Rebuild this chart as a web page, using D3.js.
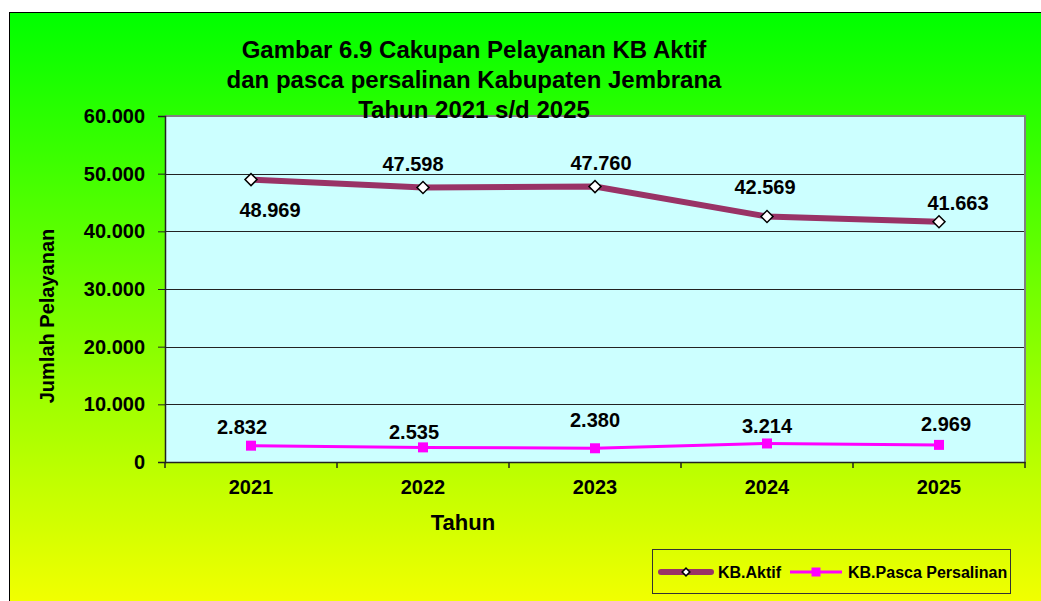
<!DOCTYPE html>
<html>
<head>
<meta charset="utf-8">
<script src="https://d3js.org/d3.v7.min.js"></script>
<style>
  body { margin: 0; background: #fff; }
  svg { display: block; font-family: "Liberation Sans", Arial, sans-serif; font-weight: bold; }
</style>
</head>
<body>
<svg id="chart"></svg>
<script>
// Data
const years = ["2021", "2022", "2023", "2024", "2025"];
const kbAktif = [48969, 47598, 47760, 42569, 41663];
const kbPasca = [2832, 2535, 2380, 3214, 2969];
const yTicks = [0, 10000, 20000, 30000, 40000, 50000, 60000];
const titleLines = ["Gambar 6.9 Cakupan Pelayanan KB Aktif", "dan pasca persalinan Kabupaten Jembrana", "Tahun 2021 s/d 2025"];

// Label nudges (dx, dy of label centre from its point), as placed in the original
const aktifLabelOffset = [[19, 30], [-10, -24], [6, -24], [-2, -30], [19, -19]];
const pascaLabelOffset = [[-9, -19], [-9, -15], [0, -28], [0, -17], [7, -21]];

const W = 1041, H = 601;
const plot = { left: 165, top: 116, right: 1025, bottom: 462 };

const svg = d3.select("#chart").attr("width", W).attr("height", H);

// number format with "." thousands separator
const fmt = d3.formatLocale({ decimal: ",", thousands: ".", grouping: [3], currency: ["", ""] }).format(",");

// Background gradient green -> yellow
const defs = svg.append("defs");
const bg = defs.append("linearGradient")
  .attr("id", "bg-grad")
  .attr("x1", 0).attr("y1", 0).attr("x2", 0).attr("y2", 1);
bg.append("stop").attr("offset", "0%").attr("stop-color", "#00ff00");
bg.append("stop").attr("offset", "100%").attr("stop-color", "#ffff00");

svg.append("rect")
  .attr("x", 9.5).attr("y", 12.5)
  .attr("width", W + 20).attr("height", H + 20)
  .attr("fill", "url(#bg-grad)")
  .attr("stroke", "#000").attr("stroke-width", 1);

// Scales
const x = d3.scaleBand().domain(years).range([plot.left, plot.right]);
const y = d3.scaleLinear().domain([0, 60000]).range([plot.bottom, plot.top]);
const cx = d => x(d) + x.bandwidth() / 2;

// Plot area
svg.append("rect")
  .attr("x", plot.left).attr("y", plot.top)
  .attr("width", plot.right - plot.left).attr("height", plot.bottom - plot.top)
  .attr("fill", "#ccffff");

// Gridlines
svg.append("g").selectAll("line")
  .data(yTicks.filter(t => t > 0 && t < 60000))
  .enter().append("line")
  .attr("x1", plot.left).attr("x2", plot.right)
  .attr("y1", d => Math.round(y(d)) + 0.5).attr("y2", d => Math.round(y(d)) + 0.5)
  .attr("stroke", "#222").attr("stroke-width", 1);

// Top and right border of plot area
svg.append("path")
  .attr("d", `M${plot.left},${plot.top}H${plot.right}V${plot.bottom}`)
  .attr("fill", "none").attr("stroke", "#808080").attr("stroke-width", 2);

// Y axis
const yAxis = svg.append("g")
  .attr("transform", `translate(${plot.left},0)`)
  .call(d3.axisLeft(y).tickValues(yTicks).tickFormat(fmt).tickSize(7).tickPadding(13));
yAxis.selectAll("text").style("font-size", "20px").attr("fill", "#000");
yAxis.selectAll("line").attr("stroke", "#222");
yAxis.select(".domain").attr("stroke", "#222").attr("stroke-width", 1.5);

// X axis
const xAxis = svg.append("g")
  .attr("transform", `translate(0,${plot.bottom})`)
  .call(d3.axisBottom(x).tickSize(0).tickPadding(18));
xAxis.selectAll("text").style("font-size", "20px").attr("fill", "#000");
xAxis.select(".domain").attr("stroke", "#222").attr("stroke-width", 1.5);

// category boundary tick marks
svg.append("g").selectAll("line")
  .data(years.map(d => x(d)).concat([plot.right]))
  .enter().append("line")
  .attr("x1", d => d).attr("x2", d => d)
  .attr("y1", plot.bottom).attr("y2", plot.bottom + 6)
  .attr("stroke", "#222").attr("stroke-width", 1.5);

// Lines
const lineGen = vals => d3.line().x((d, i) => cx(years[i])).y(d => y(d))(vals);

svg.append("path")
  .attr("d", lineGen(kbAktif))
  .attr("fill", "none").attr("stroke", "#993366").attr("stroke-width", 6);

svg.append("path")
  .attr("d", lineGen(kbPasca))
  .attr("fill", "none").attr("stroke", "#ff00ff").attr("stroke-width", 3);

// Markers
const diamond = d3.symbol().type(d3.symbolSquare).size(72);
svg.append("g").selectAll("path")
  .data(kbAktif)
  .enter().append("path")
  .attr("d", diamond)
  .attr("transform", (d, i) => `translate(${cx(years[i])},${y(d)}) rotate(45)`)
  .attr("fill", "#fff").attr("stroke", "#000").attr("stroke-width", 1.5);

const square = d3.symbol().type(d3.symbolSquare).size(100);
svg.append("g").selectAll("path")
  .data(kbPasca)
  .enter().append("path")
  .attr("d", square)
  .attr("transform", (d, i) => `translate(${cx(years[i])},${y(d)})`)
  .attr("fill", "#ff00ff");

// Data labels
function addLabels(vals, offsets) {
  svg.append("g").selectAll("text")
    .data(vals)
    .enter().append("text")
    .attr("x", (d, i) => cx(years[i]) + offsets[i][0])
    .attr("y", (d, i) => y(d) + offsets[i][1] + 7)
    .attr("text-anchor", "middle")
    .style("font-size", "20px")
    .text(d => fmt(d));
}
addLabels(kbAktif, aktifLabelOffset);
addLabels(kbPasca, pascaLabelOffset);

// Title
svg.append("g").selectAll("text")
  .data(titleLines)
  .enter().append("text")
  .attr("x", 474)
  .attr("y", (d, i) => 58 + i * 30)
  .attr("text-anchor", "middle")
  .style("font-size", "24px")
  .text(d => d);

// Axis titles
svg.append("text")
  .attr("x", 463).attr("y", 530)
  .attr("text-anchor", "middle")
  .style("font-size", "22px")
  .text("Tahun");

svg.append("text")
  .attr("transform", "translate(54,316) rotate(-90)")
  .attr("text-anchor", "middle")
  .style("font-size", "20px")
  .text("Jumlah Pelayanan");

// Legend
const legend = svg.append("g");
legend.append("rect")
  .attr("x", 652.5).attr("y", 549.5)
  .attr("width", 358).attr("height", 44)
  .attr("fill", "none").attr("stroke", "#333").attr("stroke-width", 1);

legend.append("line")
  .attr("x1", 661).attr("x2", 711).attr("y1", 572).attr("y2", 572)
  .attr("stroke", "#993366").attr("stroke-width", 6).attr("stroke-linecap", "round");
legend.append("path")
  .attr("d", d3.symbol().type(d3.symbolSquare).size(30))
  .attr("transform", "translate(686,572) rotate(45)")
  .attr("fill", "#fff").attr("stroke", "#000").attr("stroke-width", 1.5);
legend.append("text")
  .attr("x", 718).attr("y", 578)
  .style("font-size", "16px")
  .text("KB.Aktif");

legend.append("line")
  .attr("x1", 790).attr("x2", 842).attr("y1", 572).attr("y2", 572)
  .attr("stroke", "#ff00ff").attr("stroke-width", 3);
legend.append("path")
  .attr("d", d3.symbol().type(d3.symbolSquare).size(81))
  .attr("transform", "translate(816,572)")
  .attr("fill", "#ff00ff");
legend.append("text")
  .attr("x", 848).attr("y", 578)
  .style("font-size", "16px")
  .text("KB.Pasca Persalinan");
</script>
</body>
</html>
